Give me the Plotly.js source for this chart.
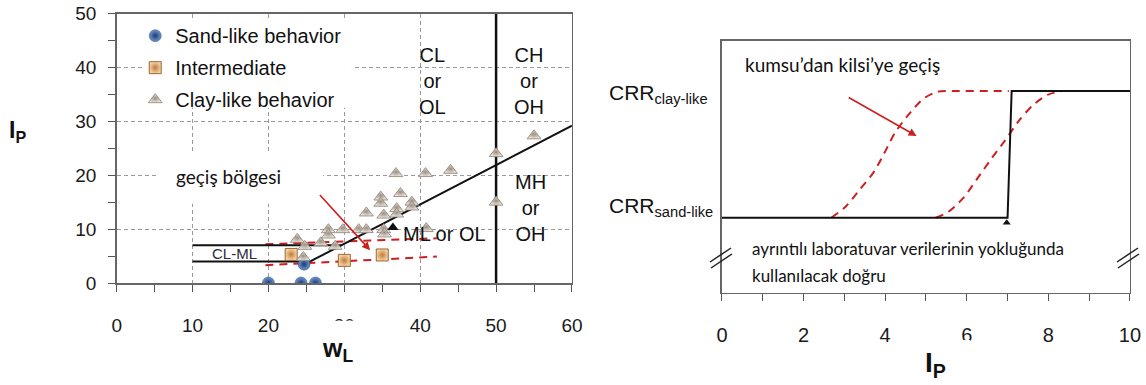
<!DOCTYPE html>
<html>
<head>
<meta charset="utf-8">
<script src="https://cdn.plot.ly/plotly-3.0.1.min.js"></script>
<style>html,body{margin:0;padding:0;background:#fff;}#chart{width:1146px;height:385px;}</style>
</head>
<body>
<div id="chart"></div>
<script>
// ---------- Left chart data (plasticity chart) ----------
const sandWL = [20, 24.3, 26.2, 24.7];
const sandIP = [0, 0, 0, 3.5];
const interWL = [23, 30, 35];
const interIP = [5.3, 4.2, 5.2];
const clayWL = [23.8, 24.8, 24.6, 26.9, 27.9, 27.9, 28.8, 29.8, 31.9, 32.9, 32.9, 34.8, 34.8, 35.2, 35.2, 35.3, 36.8, 37.4, 36.9, 36.9, 38.9, 38.9, 40.7, 40.8, 44.0, 50.0, 50.0, 55.0];
const clayIP = [8.1, 6.8, 4.75, 7.45, 9.9, 8.9, 6.8, 9.9, 9.9, 9.9, 13.0, 15.95, 14.8, 12.6, 9.9, 9.1, 20.3, 16.6, 13.8, 12.8, 15.0, 14.1, 20.3, 10.1, 20.9, 24.0, 15.0, 27.3];
const blackTriWL = [36.4];
const blackTriIP = [10.3];
const aLineWL = [25.5, 60];
const aLineIP = [4, 29.2];
const clmlUpperWL = [10, 29.6];
const clmlUpperIP = [7, 7];
const clmlLowerWL = [10, 25.5];
const clmlLowerIP = [4, 4];
const wl50WL = [50, 50];
const wl50IP = [0, 50];
const redUpperWL = [19.6, 42.2];
const redUpperIP = [7.2, 8.3];
const redLowerWL = [19.6, 42.2];
const redLowerIP = [3.3, 4.9];
const leftArrowTail = [26.6, 16.6];
const leftArrowHead = [33.4, 6.1];
const legendNames = ['Sand-like behavior', 'Intermediate', 'Clay-like behavior'];
const xTicksLeft = [0, 10, 20, 30, 40, 50, 60];
const yTicksLeft = [0, 10, 20, 30, 40, 50];

// ---------- Right chart data (CRR transition) ----------
const stepIP = [0, 7, 7.1, 10];
const stepCRR = [0, 0, 1, 1];
const curve1IP = [2.68, 3.03, 3.37, 3.72, 3.98, 4.24, 4.59, 4.94, 5.29, 5.72, 7.03];
const curve1CRR = [0, 0.087, 0.22, 0.36, 0.51, 0.67, 0.82, 0.94, 0.995, 1, 1];
const curve2IP = [5.24, 5.55, 5.9, 6.24, 6.59, 6.94, 7.29, 7.63, 7.98, 8.33];
const curve2CRR = [0, 0.047, 0.15, 0.30, 0.46, 0.61, 0.77, 0.89, 0.97, 1];
const markIP = [6.98];
const markCRR = [-0.04];
const rightArrowTail = [3.07, 0.955];
const rightArrowHead = [4.77, 0.645];
const xTicksRight = [0, 2, 4, 6, 8, 10];

const FONT = 'Liberation Sans, Arial, sans-serif';
const CAL = 'Lato, sans-serif';
const RED = '#cc1f1f';

const traces = [
  {x: redUpperWL, y: redUpperIP, xaxis: 'x', yaxis: 'y', mode: 'lines', line: {color: RED, width: 2, dash: '8px,6px'}, showlegend: false, hoverinfo: 'skip'},
  {x: redLowerWL, y: redLowerIP, xaxis: 'x', yaxis: 'y', mode: 'lines', line: {color: RED, width: 2, dash: '8px,6px'}, showlegend: false, hoverinfo: 'skip'},
  {x: clmlUpperWL, y: clmlUpperIP, xaxis: 'x', yaxis: 'y', mode: 'lines', line: {color: '#111', width: 2}, showlegend: false, hoverinfo: 'skip'},
  {x: clmlLowerWL, y: clmlLowerIP, xaxis: 'x', yaxis: 'y', mode: 'lines', line: {color: '#111', width: 2}, showlegend: false, hoverinfo: 'skip'},
  {x: aLineWL, y: aLineIP, xaxis: 'x', yaxis: 'y', mode: 'lines', line: {color: '#111', width: 2}, showlegend: false, hoverinfo: 'skip'},
  {x: wl50WL, y: wl50IP, xaxis: 'x', yaxis: 'y', mode: 'lines', line: {color: '#111', width: 2.5}, showlegend: false, hoverinfo: 'skip'},
  {x: sandWL, y: sandIP, xaxis: 'x', yaxis: 'y', mode: 'markers', name: legendNames[0], legendgroup: 'a',
   marker: {symbol: 'circle', size: 12, color: '#7097d0', gradient: {type: 'radial', color: '#1c3a70'}, line: {color: '#24447a', width: 0.5}}},
  {x: interWL, y: interIP, xaxis: 'x', yaxis: 'y', mode: 'markers', name: legendNames[1], legendgroup: 'b',
   marker: {symbol: 'square', size: 12, color: '#f6d2a6', gradient: {type: 'radial', color: '#bf7b3c'}, line: {color: '#9c6632', width: 1}}},
  {x: clayWL, y: clayIP, xaxis: 'x', yaxis: 'y', mode: 'markers', name: legendNames[2], legendgroup: 'c',
   marker: {symbol: 'triangle-up', size: 12, color: '#ebe4dc', gradient: {type: 'radial', color: '#9a8e83'}, line: {color: '#8a7f75', width: 0.8}}},
  {x: blackTriWL, y: blackTriIP, xaxis: 'x', yaxis: 'y', mode: 'markers', showlegend: false,
   marker: {symbol: 'triangle-up', size: 10, color: '#111'}},
  {x: curve1IP, y: curve1CRR, xaxis: 'x2', yaxis: 'y2', mode: 'lines', line: {color: RED, width: 2, dash: '8px,6px', shape: 'spline', smoothing: 0.8}, showlegend: false, hoverinfo: 'skip'},
  {x: curve2IP, y: curve2CRR, xaxis: 'x2', yaxis: 'y2', mode: 'lines', line: {color: RED, width: 2, dash: '8px,6px', shape: 'spline', smoothing: 0.8}, showlegend: false, hoverinfo: 'skip'},
  {x: stepIP, y: stepCRR, xaxis: 'x2', yaxis: 'y2', mode: 'lines', line: {color: '#111', width: 2}, showlegend: false, hoverinfo: 'skip'},
  {x: markIP, y: markCRR, xaxis: 'x2', yaxis: 'y2', mode: 'markers', showlegend: false, marker: {symbol: 'triangle-up', size: 7, color: '#111'}}
];

const gridDash = '4px,3px';
function paperText(px, py, text, size, family, xanchor) {
  return {xref: 'paper', yref: 'paper', x: px / 1146, y: 1 - py / 385, xanchor: xanchor || 'center', yanchor: 'middle',
          text: text, showarrow: false, font: {family: family || FONT, size: size, color: '#111'}};
}
function dataText(xr, yr, x, y, text, size, family, color) {
  return {xref: xr, yref: yr, x: x, y: y, xanchor: 'center', yanchor: 'middle', text: text, showarrow: false,
          font: {family: family || FONT, size: size, color: color || '#111'}};
}

const layout = {
  width: 1146, height: 385,
  margin: {l: 0, r: 0, t: 0, b: 0},
  paper_bgcolor: '#ffffff', plot_bgcolor: '#ffffff',
  font: {family: FONT, color: '#1a1a1a'},
  showlegend: true,
  legend: {x: 0.118, y: 0.958, xanchor: 'left', yanchor: 'top', bgcolor: 'rgba(0,0,0,0)', font: {family: FONT, size: 20, color: '#111'}, tracegroupgap: 3, itemwidth: 30},
  xaxis: {domain: [0.1018, 0.4991], range: [0, 60], anchor: 'y', tickvals: xTicksLeft, ticks: 'outside', ticklen: 7, tickcolor: '#555',
          minor: {dtick: 5, ticks: 'outside', ticklen: 7, tickcolor: '#555', showgrid: false},
          showgrid: true, gridcolor: '#9a9a9a', griddash: gridDash, gridwidth: 1,
          showline: true, linecolor: '#666', linewidth: 1.5, mirror: true, zeroline: false,
          ticklabelstandoff: 18, tickfont: {family: FONT, size: 19, color: '#1a1a1a'}, fixedrange: true},
  yaxis: {domain: [0.2649, 0.9649], range: [0, 50], anchor: 'x', tickvals: yTicksLeft, ticks: 'outside', ticklen: 7, tickcolor: '#555',
          minor: {dtick: 5, ticks: 'outside', ticklen: 7, tickcolor: '#555', showgrid: false},
          showgrid: true, gridcolor: '#9a9a9a', griddash: gridDash, gridwidth: 1,
          showline: true, linecolor: '#666', linewidth: 1.5, mirror: true, zeroline: false,
          ticklabelstandoff: 8, tickfont: {family: FONT, size: 19, color: '#1a1a1a'}, fixedrange: true},
  xaxis2: {domain: [0.6300, 0.9860], range: [0, 10], anchor: 'y2', tickvals: xTicksRight, ticks: 'outside', ticklen: 7, tickcolor: '#555',
          minor: {dtick: 1, ticks: 'outside', ticklen: 7, tickcolor: '#555', showgrid: false},
          showgrid: false, showline: true, linecolor: '#666', linewidth: 1.5, mirror: true, zeroline: false,
          ticklabelstandoff: 17, tickfont: {family: FONT, size: 20, color: '#1a1a1a'}, fixedrange: true},
  yaxis2: {domain: [0.2390, 0.8943], range: [-0.594, 1.397], anchor: 'x2', showticklabels: false, ticks: '', showgrid: false,
          showline: true, linecolor: '#666', linewidth: 1.5, mirror: true, zeroline: false, fixedrange: true},
  shapes: [
    {type: 'rect', xref: 'x', yref: 'y', x0: 3.5, x1: 31, y0: 32.5, y1: 48.6, fillcolor: '#ffffff', line: {width: 0}, layer: 'between'},
    {type: 'rect', xref: 'x', yref: 'y', x0: 5.5, x1: 27.2, y0: 14.7, y1: 24, fillcolor: '#ffffff', line: {width: 0}, layer: 'between'},
    {type: 'rect', xref: 'paper', yref: 'paper', x0: 0.2633, x1: 0.3429, y0: 0, y1: 0.167, fillcolor: '#ffffff', line: {width: 0}, layer: 'above'},
    {type: 'rect', xref: 'paper', yref: 'paper', x0: 0.7784, x1: 0.8464, y0: 0, y1: 0.1169, fillcolor: '#ffffff', line: {width: 0}, layer: 'above'},
    {type: 'line', xref: 'paper', yref: 'paper', x0: 710/1146, y0: 1 - 262/385, x1: 731/1146, y1: 1 - 248/385, line: {color: '#222', width: 1.5}, layer: 'above'},
    {type: 'line', xref: 'paper', yref: 'paper', x0: 711/1146, y0: 1 - 268/385, x1: 732/1146, y1: 1 - 254/385, line: {color: '#222', width: 1.5}, layer: 'above'},
    {type: 'line', xref: 'paper', yref: 'paper', x0: 1117/1146, y0: 1 - 262/385, x1: 1138/1146, y1: 1 - 248/385, line: {color: '#222', width: 1.5}, layer: 'above'},
    {type: 'line', xref: 'paper', yref: 'paper', x0: 1118/1146, y0: 1 - 268/385, x1: 1139/1146, y1: 1 - 254/385, line: {color: '#222', width: 1.5}, layer: 'above'}
  ],
  annotations: [
    {xref: 'x', yref: 'y', axref: 'x', ayref: 'y', x: leftArrowHead[0], y: leftArrowHead[1], ax: leftArrowTail[0], ay: leftArrowTail[1], text: '', showarrow: true, arrowhead: 2, arrowsize: 1, arrowwidth: 1.6, arrowcolor: RED},
    {xref: 'x2', yref: 'y2', axref: 'x2', ayref: 'y2', x: rightArrowHead[0], y: rightArrowHead[1], ax: rightArrowTail[0], ay: rightArrowTail[1], text: '', showarrow: true, arrowhead: 2, arrowsize: 1, arrowwidth: 1.6, arrowcolor: RED},
    dataText('x', 'y', 41.6, 37.5, 'CL<br>or<br>OL', 20),
    dataText('x', 'y', 54.4, 37.5, 'CH<br>or<br>OH', 20),
    dataText('x', 'y', 54.5, 13.9, 'MH<br>or<br>OH', 20),
    dataText('x', 'y', 43.2, 9.1, 'ML or OL', 20),
    dataText('x', 'y', 15.5, 5.5, 'CL-ML', 15, FONT, '#2b2b3b'),
    dataText('x', 'y', 14.8, 19.8, 'geçiş bölgesi', 19, CAL),
    paperText(17, 131, '<b>I<sub>P</sub></b>', 23),
    paperText(337, 350, '<b>w<sub>L</sub></b>', 25),
    paperText(935, 364, '<b>I<sub>P</sub></b>', 28),
    paperText(607, 94, 'CRR<sub>clay-like</sub>', 21, FONT, 'left'),
    paperText(607, 206.7, 'CRR<sub>sand-like</sub>', 21, FONT, 'left'),
    paperText(743, 65, 'kumsu’dan kilsi’ye geçiş', 19, CAL, 'left'),
    paperText(750, 248, 'ayrıntılı laboratuvar verilerinin yokluğunda', 17, CAL, 'left'),
    paperText(750, 275, 'kullanılacak doğru', 17, CAL, 'left')
  ]
};

Plotly.newPlot('chart', traces, layout, {displayModeBar: false, staticPlot: true});
</script>
</body>
</html>
